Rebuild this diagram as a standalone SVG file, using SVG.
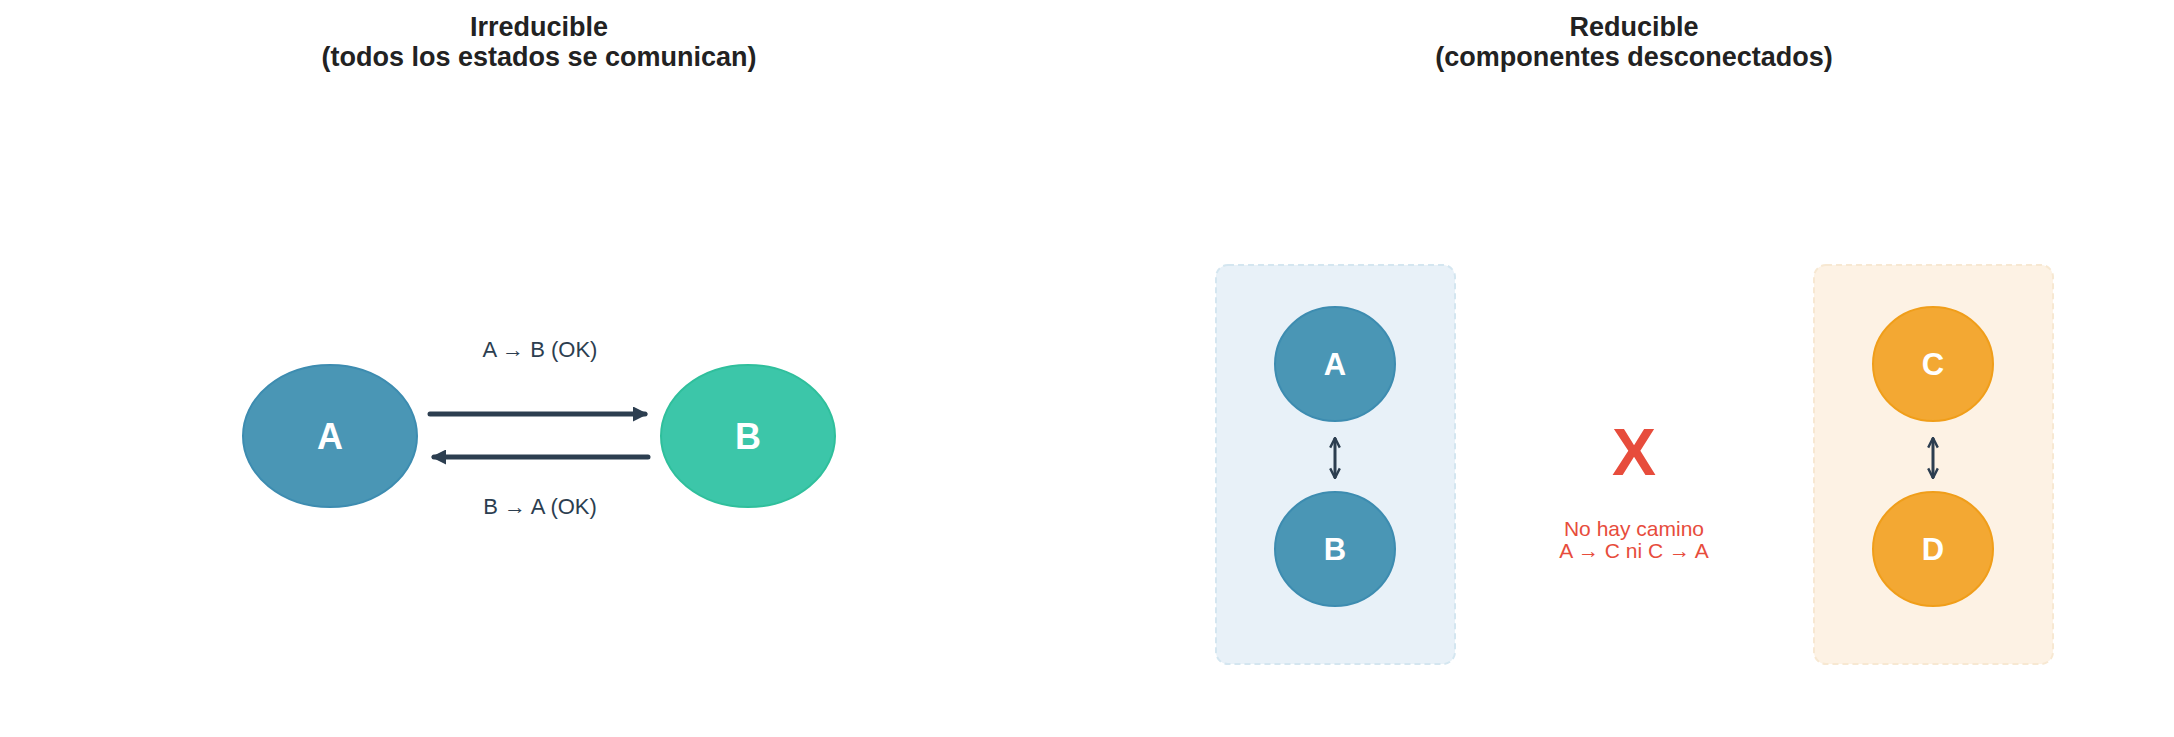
<svg xmlns="http://www.w3.org/2000/svg" width="2174" height="737" viewBox="0 0 2174 737">
<style>
.t{font-family:"Liberation Sans",Arial,sans-serif;font-weight:bold;font-size:27px;fill:#222;text-anchor:middle}
.lbl{font-family:"Liberation Sans",Arial,sans-serif;font-size:22px;fill:#2c3e50;text-anchor:middle}
.nl{font-family:"Liberation Sans",Arial,sans-serif;font-weight:bold;font-size:36px;fill:#fff;text-anchor:middle;dominant-baseline:central}
.ns{font-family:"Liberation Sans",Arial,sans-serif;font-weight:bold;font-size:31px;fill:#fff;text-anchor:middle;dominant-baseline:central}
.blue{fill:#4a96b5;stroke:#3d8cb0;stroke-width:2}
.green{fill:#3cc6a9;stroke:#2fbf9c;stroke-width:2}
.orange{fill:#f3a833;stroke:#f09e1a;stroke-width:2}
.ed{stroke:#2c3e50;stroke-width:5;fill:none;stroke-linecap:round}
.ed2{stroke:#2c3e50;stroke-width:3;fill:none}
.red{font-family:"Liberation Sans",Arial,sans-serif;font-size:21px;fill:#e74c3c;text-anchor:middle}
</style>
<defs>
<marker id="ah" viewBox="0 0 10 10" refX="8" refY="5" markerWidth="3" markerHeight="3" orient="auto-start-reverse"><path d="M0,0 L10,5 L0,10 Z" fill="#2c3e50"/></marker>
<marker id="ah2" viewBox="0 0 10 10" refX="9" refY="5" markerWidth="4" markerHeight="4" orient="auto-start-reverse"><path d="M1,1 L9,5 L1,9" fill="none" stroke="#2c3e50" stroke-width="2"/></marker>
</defs>
<rect width="2174" height="737" fill="#fff"/>
<text class="t" x="539" y="36">Irreducible</text>
<text class="t" x="539" y="66">(todos los estados se comunican)</text>
<text class="t" x="1634" y="36">Reducible</text>
<text class="t" x="1634" y="66">(componentes desconectados)</text>
<rect x="1216" y="265" width="239" height="399" rx="12" fill="#e8f1f8" stroke="#d4e6f0" stroke-width="2" stroke-dasharray="6,4"/>
<rect x="1814" y="265" width="239" height="399" rx="12" fill="#fdf2e4" stroke="#f7e8d2" stroke-width="2" stroke-dasharray="6,4"/>
<g id="connectors">
<line class="ed" x1="430" y1="414" x2="645" y2="414" marker-end="url(#ah)"/>
<line class="ed" x1="648" y1="457" x2="434" y2="457" marker-end="url(#ah)"/>
<line class="ed2" x1="1335" y1="438" x2="1335" y2="478" marker-start="url(#ah2)" marker-end="url(#ah2)"/>
<line class="ed2" x1="1933" y1="438" x2="1933" y2="478" marker-start="url(#ah2)" marker-end="url(#ah2)"/>
</g>
<text class="lbl" x="540" y="357">A → B (OK)</text>
<text class="lbl" x="540" y="514">B → A (OK)</text>
<g id="irrA"><ellipse class="blue" cx="330" cy="436" rx="87" ry="71"/><text class="nl" x="330" y="436">A</text></g>
<g id="irrB"><ellipse class="green" cx="748" cy="436" rx="87" ry="71"/><text class="nl" x="748" y="436">B</text></g>
<g id="redA"><ellipse class="blue" cx="1335" cy="364" rx="60" ry="57"/><text class="ns" x="1335" y="364">A</text></g>
<g id="redB"><ellipse class="blue" cx="1335" cy="549" rx="60" ry="57"/><text class="ns" x="1335" y="549">B</text></g>
<g id="redC"><ellipse class="orange" cx="1933" cy="364" rx="60" ry="57"/><text class="ns" x="1933" y="364">C</text></g>
<g id="redD"><ellipse class="orange" cx="1933" cy="549" rx="60" ry="57"/><text class="ns" x="1933" y="549">D</text></g>
<text x="1634" y="475" font-family="Liberation Sans, Arial, sans-serif" font-weight="bold" font-size="66" fill="#e74c3c" text-anchor="middle">X</text>
<text class="red" x="1634" y="536">No hay camino</text>
<text class="red" x="1634" y="558">A → C ni C → A</text>
</svg>
